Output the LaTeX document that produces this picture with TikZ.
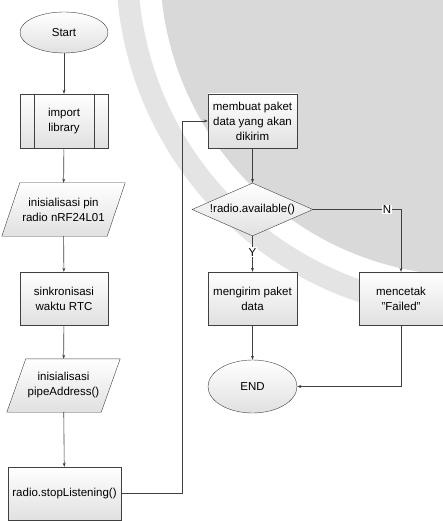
\documentclass[tikz,border=0pt]{standalone}
\usepackage{fontspec}
\setmainfont{Liberation Sans}
\usepackage{xcolor}
\usepackage{tikz}
\usetikzlibrary{shapes.geometric}
\usetikzlibrary{arrows.meta}
\usetikzlibrary{backgrounds}
\definecolor{wmgrey}{HTML}{D9D9D9}
\definecolor{wmlight}{HTML}{E4E4E4}
\definecolor{edge}{HTML}{404040}
\tikzset{
block/.style={
  draw=edge,
  top color=white,
  bottom color=black!12,
  align=center,
  inner sep=0pt,
  font=\fontsize{11.5}{15}\selectfont
},
process/.style={block,rectangle,minimum width=88pt,minimum height=53pt},
terminal/.style={block,ellipse,minimum width=88pt,minimum height=41pt},
io/.style={rectangle,align=center,inner sep=0pt,minimum height=53pt,font=\fontsize{11.5}{15}\selectfont},
ioshape/.style={draw=edge,top color=white,bottom color=black!12},
decision/.style={block,diamond,aspect=2.3,minimum width=121pt,minimum height=53pt},
flow/.style={draw=edge,line width=0.6pt,->},
answer/.style={fill=white,inner sep=1pt,font=\fontsize{11.5}{13}\selectfont},
>={Stealth[length=4pt,width=3pt]}
}

\begin{document}
\begin{tikzpicture}[x=1pt,y=-1pt]
\useasboundingbox (0,0) rectangle (443,521);
% the watermark
\begin{pgfonlayer}{background}
\begin{scope}
\clip (0,0) rectangle (443,521);
\fill[wmlight] (470,-34) circle[radius=354pt];
\fill[white] (470,-34) circle[radius=332pt];
\fill[wmgrey] (470,-34) circle[radius=310pt];
\end{scope}
\end{pgfonlayer}
% the left column
\node[terminal] (start) at (64,32.5) {Start};
\node[process,minimum height=54pt] (lib) at (64,121) {import\\library};
\node[io,minimum width=123pt] (pin) at (63.5,209.5) {inisialisasi pin\\radio nRF24L01};
\node[process] (rtc) at (64,298.5) {sinkronisasi\\waktu RTC};
\node[io,minimum width=113pt] (pipe) at (63.5,385.5) {inisialisasi\\pipeAddress()};
\node[process,minimum width=113pt] (stop) at (64.5,493.5) {radio.stopListening()};
\draw[edge] ([xshift=14pt]lib.north west) -- ([xshift=14pt]lib.south west);
\draw[edge] ([xshift=-14pt]lib.north east) -- ([xshift=-14pt]lib.south east);
\begin{pgfonlayer}{background}
\path[ioshape] ([xshift=18pt]pin.north west) -- (pin.north east)
  -- ([xshift=-18pt]pin.south east) -- (pin.south west) -- cycle;
\path[ioshape] ([xshift=19pt]pipe.north west) -- (pipe.north east)
  -- ([xshift=-19pt]pipe.south east) -- (pipe.south west) -- cycle;
\end{pgfonlayer}
% the right column
\node[process,minimum width=89pt,minimum height=54pt] (paket) at (252.5,121) {membuat paket\\data yang akan\\dikirim};
\node[decision] (avail) at (252.5,209.5) {!radio.available()};
\node[process,minimum width=89pt] (kirim) at (252.5,298.5) {mengirim paket\\data};
\node[process,minimum width=84pt] (fail) at (401,298.5) {mencetak\\"Failed"};
\node[terminal,minimum width=89pt,minimum height=53pt] (finish) at (252.5,386.5) {END};
% the arrows
\draw[flow] (start) -- (lib);
\draw[flow] (lib) -- (pin);
\draw[flow] (pin) -- (rtc);
\draw[flow] (rtc) -- (pipe);
\draw[flow] (pipe) -- (stop);
\draw[flow] (stop.east) -- ([xshift=61pt]stop.east) |- (paket.west);
\draw[flow] (paket) -- (avail);
\draw[flow] (avail) -- node[answer,pos=0.45]{Y} (kirim);
\draw[flow] (avail.east) -| node[answer,pos=0.42]{N} (fail.north);
\draw[flow] (kirim) -- (finish);
\draw[flow] (fail.south) |- (finish.east);
\end{tikzpicture}
\end{document}
